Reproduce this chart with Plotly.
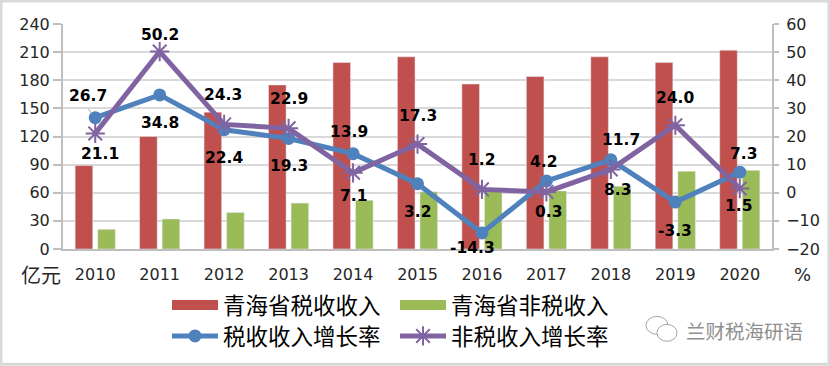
import plotly.graph_objects as go

years = ["2010","2011","2012","2013","2014","2015","2016","2017","2018","2019","2020"]
tax_income = [89,120,146,175,199,205,176,184,205,199,212]
nontax_income = [21,32,39,49,52,61,62,62,67,83,84]
tax_growth = [26.7,34.8,22.4,19.3,13.9,3.2,-14.3,4.2,11.7,-3.3,7.3]
nontax_growth = [21.1,50.2,24.3,22.9,7.1,17.3,1.2,0.3,8.3,24.0,1.5]
left_ticks = [0,30,60,90,120,150,180,210,240]
right_ticks = [-20,-10,0,10,20,30,40,50,60]

# label offsets in pixels relative to each point
tax_dx = [-7,0,0,0,-4,0,-9,-3,10,0,4]
tax_dy = [22,-28,-28,-28,22,-28,-15,19,20,-29,18]
nontax_dx = [5,0,-1,0,0,0,0,2,7,0,-1]
nontax_dy = [-21,17,29,29,-23,28,29,-20,-21,27,-17]

L, R, T, B = 63, 772, 24, 249.5
def px(v): return (v - L) / (R - L)
def py(v): return (B - v) / (B - T)

CJK = "Noto Sans CJK SC"
AX = "DejaVu Sans"
TXT = "#262626"
RED, GREEN, BLUE, PURPLE = "#c0504d", "#9bbb59", "#4f81bd", "#8064a2"
fig = go.Figure()
fig.add_bar(x=years, y=tax_income, name="青海省税收收入", marker_color=RED, showlegend=False)
fig.add_bar(x=years, y=nontax_income, name="青海省非税收入", marker_color=GREEN, showlegend=False)
# legend keys for the bars, which need the wide flat swatch of the original
fig.add_scatter(x=[None], y=[None], name="青海省税收收入", mode="lines", line=dict(color=RED, width=13), legend="legend")
fig.add_scatter(x=[None], y=[None], name="青海省非税收入", mode="lines", line=dict(color=GREEN, width=13), legend="legend")
fig.add_scatter(x=years, y=tax_growth, name="税收收入增长率", yaxis="y2", mode="lines+markers",
                line=dict(color=BLUE, width=5), marker=dict(color=BLUE, size=13), legend="legend2")
fig.add_scatter(x=years, y=nontax_growth, name="非税收入增长率", yaxis="y2", mode="lines+markers",
                line=dict(color=PURPLE, width=5),
                marker=dict(symbol="asterisk-open", size=16, line=dict(color=PURPLE, width=2)), legend="legend2")

anns = [dict(x=0, y=tax_growth[0], xref="x", yref="y2", text="", showarrow=True, arrowhead=0, arrowwidth=1,
             arrowcolor="#a6a6a6", ax=-8, ay=-10, standoff=5)]
for vals, dxs, dys in ((tax_growth, tax_dx, tax_dy), (nontax_growth, nontax_dx, nontax_dy)):
    for i, (v, dx, dy) in enumerate(zip(vals, dxs, dys)):
        anns.append(dict(x=i, y=v, xref="x", yref="y2", text=f"<b>{v:.1f}</b>", showarrow=False,
                         xshift=dx, yshift=dy, font=dict(family=AX, size=15.5, color="#000000")))
anns += [
    dict(x=px(41), y=py(275), xref="paper", yref="paper", text="亿元", showarrow=False, xanchor="center", yanchor="middle",
         font=dict(family=CJK, size=20, color=TXT)),
    dict(x=px(802), y=py(275), xref="paper", yref="paper", text="%", showarrow=False, xanchor="center", yanchor="middle",
         font=dict(family=AX, size=18, color=TXT)),
    dict(x=px(744), y=py(331), xref="paper", yref="paper", text="兰财税海研语", showarrow=False, xanchor="center", yanchor="middle",
         font=dict(family=CJK, size=19.5, color="#8f8f8f")),
]
legend_common = dict(orientation="h", xanchor="left", yanchor="middle", itemwidth=46,
                     entrywidth=167, entrywidthmode="pixels", font=dict(family=CJK, size=22.5, color="#000000"),
                     bgcolor="rgba(0,0,0,0)", traceorder="normal")
fig.update_layout(
    width=830, height=366, autosize=False,
    margin=dict(l=L, r=830-R, t=T, b=366-B, autoexpand=False),
    paper_bgcolor="white", plot_bgcolor="white",
    barmode="group", bargap=0.30, bargroupgap=0.22,
    xaxis=dict(type="category", range=[-0.5, 10.5], showgrid=False, showline=True, linecolor="#bfbfbf", linewidth=2, ticks="",
               tickfont=dict(family=AX, size=16, color=TXT), ticklabelstandoff=10),
    yaxis=dict(range=[0,240], tickvals=left_ticks, showgrid=True, gridcolor="#d9d9d9", gridwidth=2,
               showline=True, linecolor="#bfbfbf", linewidth=2, ticks="outside", ticklen=8, tickcolor="#bfbfbf",
               tickwidth=2, tickfont=dict(family=AX, size=16, color=TXT), zeroline=False),
    yaxis2=dict(range=[-20,60], tickvals=right_ticks, overlaying="y", side="right", showgrid=False,
                showline=True, linecolor="#bfbfbf", linewidth=2, ticks="outside", ticklen=5, tickcolor="#bfbfbf",
                tickwidth=2, tickfont=dict(family=AX, size=16, color=TXT), zeroline=False, ticklabelstandoff=4),
    legend=dict(x=px(167), y=py(306), **legend_common),
    legend2=dict(x=px(167), y=py(337), **legend_common),
    annotations=anns,
    shapes=[
        dict(type="rect", xref="paper", yref="paper", x0=px(1), x1=px(829), y0=py(365), y1=py(1),
             line=dict(color="#d9d9d9", width=3), layer="below"),
        dict(type="circle", xref="paper", yref="paper", x0=px(646), x1=px(668), y0=py(335), y1=py(317),
             line=dict(color="#a6a6a6", width=1)),
        dict(type="circle", xref="paper", yref="paper", x0=px(657), x1=px(677), y0=py(342), y1=py(325),
             line=dict(color="#a6a6a6", width=1), fillcolor="white"),
    ],
)
fig.write_html("out.html", config=dict(displayModeBar=False),
               post_script="document.documentElement.style.margin='0';document.body.style.margin='0';document.body.style.overflow='hidden';")
